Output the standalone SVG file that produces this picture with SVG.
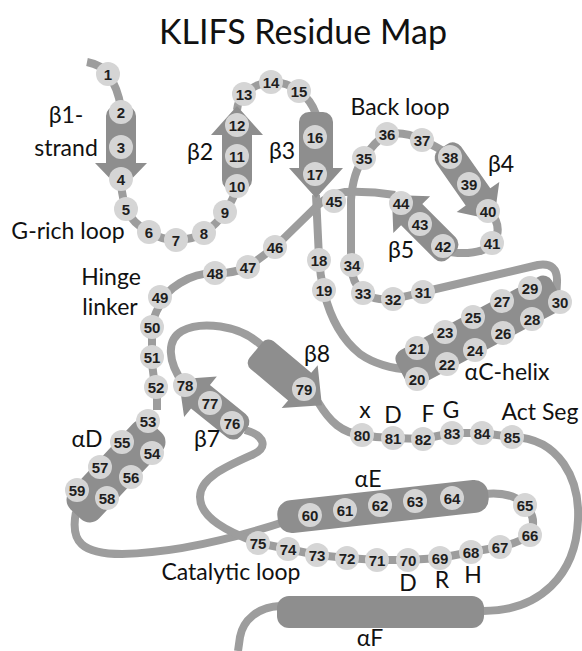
<svg xmlns="http://www.w3.org/2000/svg" width="582" height="651" viewBox="0 0 582 651">
  <style>
    .bb { fill: none; stroke: #9d9d9d; stroke-width: 8; stroke-linecap: butt; stroke-linejoin: round; }
    .ss { fill: #8e8e8e; }
    .res circle { fill: #d5d5d5; }
    .res text { font-family: "Liberation Sans", Arial, sans-serif; font-weight: bold; font-size: 15px; fill: #1e1e1e; text-anchor: middle; dominant-baseline: central; }
    .lbl { font-family: Lato, "Open Sans", "DejaVu Sans", sans-serif; font-size: 23px; fill: #111; text-anchor: middle; }
    .title { font-family: Lato, "Open Sans", "DejaVu Sans", sans-serif; font-size: 34px; fill: #111; text-anchor: middle; }
  </style>
  <rect width="582" height="651" fill="#ffffff"/>

  <text class="title" x="303" y="44">KLIFS Residue Map</text>

  <!-- backbone trace -->
  <g id="backbone">
    <path class="bb" d="M 87,62 Q 102,65 108,74 Q 118,88 121,108"/>
    <path class="bb" d="M 121,185 Q 123,200 126,209 Q 133,224 149,232 Q 162,240 176,240 Q 192,240 204,233 Q 217,224 225,212 Q 233,200 237,188"/>
    <path class="bb" d="M 237,110 Q 238,100 244,94 Q 256,83 271,82 Q 287,82 299,91 Q 311,100 316,114"/>
    <path class="bb" d="M 316,195 L 319,258 Q 320,275 324,292 Q 334,333 360,354 Q 380,368 412,370"/>
    <path class="bb" d="M 556,300 L 557,282 Q 558,262 538,265 L 423,292 Q 408,296 393,299 Q 375,301 363,293 Q 352,283 351,265 L 351,200 Q 353,172 364,158 Q 374,142 387,134 Q 405,131 422,140 Q 435,146 445,152"/>
    <path class="bb" d="M 490,212 Q 503,226 494,243 Q 484,254 458,253 L 450,252"/>
    <path class="bb" d="M 395,195 Q 370,191 345,192 Q 330,194 318,205 L 275,247 L 248,267 Q 232,274 215,273 Q 196,273 180,283 Q 165,292 160,305 Q 152,318 152,330 L 152,360 Q 153,378 157,392 L 157,410"/>
    <path class="bb" d="M 76,512 C 70,542 82,554 122,554 C 170,553 230,540 290,520"/>
    <path class="bb" d="M 484,494 Q 512,491 525,505 Q 538,518 530,535 Q 518,543 500,547 L 471,552 L 440,558 L 408,560 L 377,560 L 347,558 L 317,555 L 288,549 L 258,543 C 228,532 200,518 200,497 C 200,478 225,467 252,455 C 268,448 266,436 245,430"/>
    <path class="bb" d="M 183,383 C 168,362 166,340 182,331 C 200,321 240,324 262,346"/>
    <path class="bb" d="M 318,402 C 330,422 342,433 362,435 Q 378,438 393,438 L 423,439 L 452,433 L 482,433 L 512,437 C 560,438 580,480 578,520 C 576,575 540,611 483,611"/>
    <path class="bb" d="M 280,606 C 258,607 243,620 240,637 L 238,651"/>
  </g>

  <!-- beta strands -->
  <g id="b1"><path class="ss" transform="translate(121,106) rotate(90)" d="M 10,-15 L 57,-15 L 57,-26 L 84,0 L 57,26 L 57,15 L 10,15 A 10 10 0 0 1 0,5 L 0,-5 A 10 10 0 0 1 10,-15 Z"/></g>
  <g id="b2"><path class="ss" transform="translate(237,190) rotate(-90)" d="M 10,-15 L 55,-15 L 55,-26 L 84,0 L 55,26 L 55,15 L 10,15 A 10 10 0 0 1 0,5 L 0,-5 A 10 10 0 0 1 10,-15 Z"/></g>
  <g id="b3"><path class="ss" transform="translate(316,112) rotate(90)" d="M 10,-17 L 56,-17 L 56,-27 L 86,0 L 56,27 L 56,17 L 10,17 A 10 10 0 0 1 0,7 L 0,-7 A 10 10 0 0 1 10,-17 Z"/></g>
  <g id="b4"><path class="ss" transform="translate(443,147) rotate(55)" d="M 10,-15 L 61,-15 L 61,-26 L 89,0 L 61,26 L 61,15 L 10,15 A 10 10 0 0 1 0,5 L 0,-5 A 10 10 0 0 1 10,-15 Z"/></g>
  <g id="b5"><path class="ss" transform="translate(452,255) rotate(-135)" d="M 10,-15 L 57,-15 L 57,-26 L 85,0 L 57,26 L 57,15 L 10,15 A 10 10 0 0 1 0,5 L 0,-5 A 10 10 0 0 1 10,-15 Z"/></g>
  <g id="b7"><path class="ss" transform="translate(244,432) rotate(-141)" d="M 10,-15 L 56,-15 L 56,-26 L 84,0 L 56,26 L 56,15 L 10,15 A 10 10 0 0 1 0,5 L 0,-5 A 10 10 0 0 1 10,-15 Z"/></g>
  <g id="b8"><path class="ss" transform="translate(256,350) rotate(40)" d="M 8,-18 L 57,-18 L 57,-28 L 86,0 L 57,28 L 57,18 L 8,18 A 8 8 0 0 1 0,10 L 0,-10 A 8 8 0 0 1 8,-18 Z"/></g>

  <!-- helices -->
  <g id="aC"><rect class="ss" x="-88" y="-20" width="176" height="40" rx="10" transform="translate(479,331) rotate(-28)"/></g>
  <g id="aD"><rect class="ss" x="-59" y="-20" width="118" height="40" rx="13" transform="translate(116,471) rotate(-47)"/></g>
  <g id="aE"><rect class="ss" x="-106" y="-16.5" width="212" height="33" rx="14" transform="translate(383,506.5) rotate(-6.3)"/></g>
  <g id="aF"><rect class="ss" x="277" y="596" width="207" height="32" rx="12"/></g>

  <!-- residues -->
  <g id="r1" class="res"><circle cx="108" cy="74" r="12"/><text x="108" y="74">1</text></g>
  <g id="r2" class="res"><circle cx="121" cy="112" r="12"/><text x="121" y="112">2</text></g>
  <g id="r3" class="res"><circle cx="121" cy="147" r="12"/><text x="121" y="147">3</text></g>
  <g id="r4" class="res"><circle cx="121" cy="179" r="12"/><text x="121" y="179">4</text></g>
  <g id="r5" class="res"><circle cx="126" cy="209" r="12"/><text x="126" y="209">5</text></g>
  <g id="r6" class="res"><circle cx="149" cy="232" r="12"/><text x="149" y="232">6</text></g>
  <g id="r7" class="res"><circle cx="176" cy="240" r="12"/><text x="176" y="240">7</text></g>
  <g id="r8" class="res"><circle cx="204" cy="233" r="12"/><text x="204" y="233">8</text></g>
  <g id="r9" class="res"><circle cx="225" cy="212" r="12"/><text x="225" y="212">9</text></g>
  <g id="r10" class="res"><circle cx="237" cy="186" r="12"/><text x="237" y="186">10</text></g>
  <g id="r11" class="res"><circle cx="237" cy="156" r="12"/><text x="237" y="156">11</text></g>
  <g id="r12" class="res"><circle cx="237" cy="125" r="12"/><text x="237" y="125">12</text></g>
  <g id="r13" class="res"><circle cx="244" cy="94" r="12"/><text x="244" y="94">13</text></g>
  <g id="r14" class="res"><circle cx="271" cy="82" r="12"/><text x="271" y="82">14</text></g>
  <g id="r15" class="res"><circle cx="299" cy="91" r="12"/><text x="299" y="91">15</text></g>
  <g id="r16" class="res"><circle cx="315" cy="137" r="12"/><text x="315" y="137">16</text></g>
  <g id="r17" class="res"><circle cx="315" cy="174" r="12"/><text x="315" y="174">17</text></g>
  <g id="r18" class="res"><circle cx="319" cy="260" r="12"/><text x="319" y="260">18</text></g>
  <g id="r19" class="res"><circle cx="324" cy="290" r="12"/><text x="324" y="290">19</text></g>
  <g id="r20" class="res"><circle cx="417" cy="379" r="12"/><text x="417" y="379">20</text></g>
  <g id="r21" class="res"><circle cx="417" cy="348" r="12"/><text x="417" y="348">21</text></g>
  <g id="r22" class="res"><circle cx="447" cy="364" r="12"/><text x="447" y="364">22</text></g>
  <g id="r23" class="res"><circle cx="445" cy="332" r="12"/><text x="445" y="332">23</text></g>
  <g id="r24" class="res"><circle cx="475" cy="350" r="12"/><text x="475" y="350">24</text></g>
  <g id="r25" class="res"><circle cx="473" cy="317" r="12"/><text x="473" y="317">25</text></g>
  <g id="r26" class="res"><circle cx="503" cy="333" r="12"/><text x="503" y="333">26</text></g>
  <g id="r27" class="res"><circle cx="502" cy="301" r="12"/><text x="502" y="301">27</text></g>
  <g id="r28" class="res"><circle cx="532" cy="319" r="12"/><text x="532" y="319">28</text></g>
  <g id="r29" class="res"><circle cx="530" cy="288" r="12"/><text x="530" y="288">29</text></g>
  <g id="r30" class="res"><circle cx="560" cy="302" r="12"/><text x="560" y="302">30</text></g>
  <g id="r31" class="res"><circle cx="423" cy="292" r="12"/><text x="423" y="292">31</text></g>
  <g id="r32" class="res"><circle cx="393" cy="299" r="12"/><text x="393" y="299">32</text></g>
  <g id="r33" class="res"><circle cx="363" cy="293" r="12"/><text x="363" y="293">33</text></g>
  <g id="r34" class="res"><circle cx="352" cy="265" r="12"/><text x="352" y="265">34</text></g>
  <g id="r35" class="res"><circle cx="364" cy="158" r="12"/><text x="364" y="158">35</text></g>
  <g id="r36" class="res"><circle cx="387" cy="134" r="12"/><text x="387" y="134">36</text></g>
  <g id="r37" class="res"><circle cx="422" cy="140" r="12"/><text x="422" y="140">37</text></g>
  <g id="r38" class="res"><circle cx="450" cy="157" r="12"/><text x="450" y="157">38</text></g>
  <g id="r39" class="res"><circle cx="469" cy="184" r="12"/><text x="469" y="184">39</text></g>
  <g id="r40" class="res"><circle cx="488" cy="211" r="12"/><text x="488" y="211">40</text></g>
  <g id="r41" class="res"><circle cx="492" cy="243" r="12"/><text x="492" y="243">41</text></g>
  <g id="r42" class="res"><circle cx="443" cy="246" r="12"/><text x="443" y="246">42</text></g>
  <g id="r43" class="res"><circle cx="420" cy="224" r="12"/><text x="420" y="224">43</text></g>
  <g id="r44" class="res"><circle cx="401" cy="203" r="12"/><text x="401" y="203">44</text></g>
  <g id="r45" class="res"><circle cx="334" cy="201" r="12"/><text x="334" y="201">45</text></g>
  <g id="r46" class="res"><circle cx="275" cy="247" r="12"/><text x="275" y="247">46</text></g>
  <g id="r47" class="res"><circle cx="248" cy="267" r="12"/><text x="248" y="267">47</text></g>
  <g id="r48" class="res"><circle cx="215" cy="273" r="12"/><text x="215" y="273">48</text></g>
  <g id="r49" class="res"><circle cx="160" cy="297" r="12"/><text x="160" y="297">49</text></g>
  <g id="r50" class="res"><circle cx="152" cy="327" r="12"/><text x="152" y="327">50</text></g>
  <g id="r51" class="res"><circle cx="152" cy="357" r="12"/><text x="152" y="357">51</text></g>
  <g id="r52" class="res"><circle cx="156" cy="387" r="12"/><text x="156" y="387">52</text></g>
  <g id="r53" class="res"><circle cx="148" cy="421" r="12"/><text x="148" y="421">53</text></g>
  <g id="r54" class="res"><circle cx="152" cy="453" r="12"/><text x="152" y="453">54</text></g>
  <g id="r55" class="res"><circle cx="122" cy="442" r="12"/><text x="122" y="442">55</text></g>
  <g id="r56" class="res"><circle cx="131" cy="477" r="12"/><text x="131" y="477">56</text></g>
  <g id="r57" class="res"><circle cx="100" cy="467" r="12"/><text x="100" y="467">57</text></g>
  <g id="r58" class="res"><circle cx="107" cy="498" r="12"/><text x="107" y="498">58</text></g>
  <g id="r59" class="res"><circle cx="77" cy="490" r="12"/><text x="77" y="490">59</text></g>
  <g id="r60" class="res"><circle cx="310" cy="515" r="12"/><text x="310" y="515">60</text></g>
  <g id="r61" class="res"><circle cx="345" cy="510" r="12"/><text x="345" y="510">61</text></g>
  <g id="r62" class="res"><circle cx="380" cy="505" r="12"/><text x="380" y="505">62</text></g>
  <g id="r63" class="res"><circle cx="415" cy="501" r="12"/><text x="415" y="501">63</text></g>
  <g id="r64" class="res"><circle cx="452" cy="498" r="12"/><text x="452" y="498">64</text></g>
  <g id="r65" class="res"><circle cx="525" cy="505" r="12"/><text x="525" y="505">65</text></g>
  <g id="r66" class="res"><circle cx="530" cy="535" r="12"/><text x="530" y="535">66</text></g>
  <g id="r67" class="res"><circle cx="500" cy="547" r="12"/><text x="500" y="547">67</text></g>
  <g id="r68" class="res"><circle cx="471" cy="552" r="12"/><text x="471" y="552">68</text></g>
  <g id="r69" class="res"><circle cx="440" cy="558" r="12"/><text x="440" y="558">69</text></g>
  <g id="r70" class="res"><circle cx="408" cy="560" r="12"/><text x="408" y="560">70</text></g>
  <g id="r71" class="res"><circle cx="377" cy="560" r="12"/><text x="377" y="560">71</text></g>
  <g id="r72" class="res"><circle cx="347" cy="558" r="12"/><text x="347" y="558">72</text></g>
  <g id="r73" class="res"><circle cx="317" cy="555" r="12"/><text x="317" y="555">73</text></g>
  <g id="r74" class="res"><circle cx="288" cy="549" r="12"/><text x="288" y="549">74</text></g>
  <g id="r75" class="res"><circle cx="258" cy="543" r="12"/><text x="258" y="543">75</text></g>
  <g id="r76" class="res"><circle cx="232" cy="423" r="12"/><text x="232" y="423">76</text></g>
  <g id="r77" class="res"><circle cx="210" cy="403" r="12"/><text x="210" y="403">77</text></g>
  <g id="r78" class="res"><circle cx="185" cy="385" r="12"/><text x="185" y="385">78</text></g>
  <g id="r79" class="res"><circle cx="304" cy="389" r="12"/><text x="304" y="389">79</text></g>
  <g id="r80" class="res"><circle cx="362" cy="435" r="12"/><text x="362" y="435">80</text></g>
  <g id="r81" class="res"><circle cx="393" cy="438" r="12"/><text x="393" y="438">81</text></g>
  <g id="r82" class="res"><circle cx="423" cy="439" r="12"/><text x="423" y="439">82</text></g>
  <g id="r83" class="res"><circle cx="452" cy="433" r="12"/><text x="452" y="433">83</text></g>
  <g id="r84" class="res"><circle cx="482" cy="433" r="12"/><text x="482" y="433">84</text></g>
  <g id="r85" class="res"><circle cx="512" cy="437" r="12"/><text x="512" y="437">85</text></g>

  <!-- region labels -->
  <g id="labels">
    <text class="lbl" x="66" y="123">β1-</text>
    <text class="lbl" x="66" y="156">strand</text>
    <text class="lbl" x="68" y="239">G-rich loop</text>
    <text class="lbl" x="200" y="160">β2</text>
    <text class="lbl" x="282" y="159">β3</text>
    <text class="lbl" x="400" y="115">Back loop</text>
    <text class="lbl" x="501" y="172">β4</text>
    <text class="lbl" x="401" y="258">β5</text>
    <text class="lbl" x="111" y="285">Hinge</text>
    <text class="lbl" x="110" y="315">linker</text>
    <text class="lbl" x="507" y="380">αC-helix</text>
    <text class="lbl" x="317" y="362">β8</text>
    <text class="lbl" x="207" y="447">β7</text>
    <text class="lbl" x="87" y="447">αD</text>
    <text class="lbl" x="365" y="418">x</text>
    <text class="lbl" x="393" y="423">D</text>
    <text class="lbl" x="428" y="422">F</text>
    <text class="lbl" x="451" y="418">G</text>
    <text class="lbl" x="540" y="420">Act Seg</text>
    <text class="lbl" x="368" y="487">αE</text>
    <text class="lbl" x="231" y="580">Catalytic loop</text>
    <text class="lbl" x="408" y="591">D</text>
    <text class="lbl" x="442" y="588">R</text>
    <text class="lbl" x="473" y="583">H</text>
    <text class="lbl" x="370" y="646">αF</text>
  </g>
</svg>
